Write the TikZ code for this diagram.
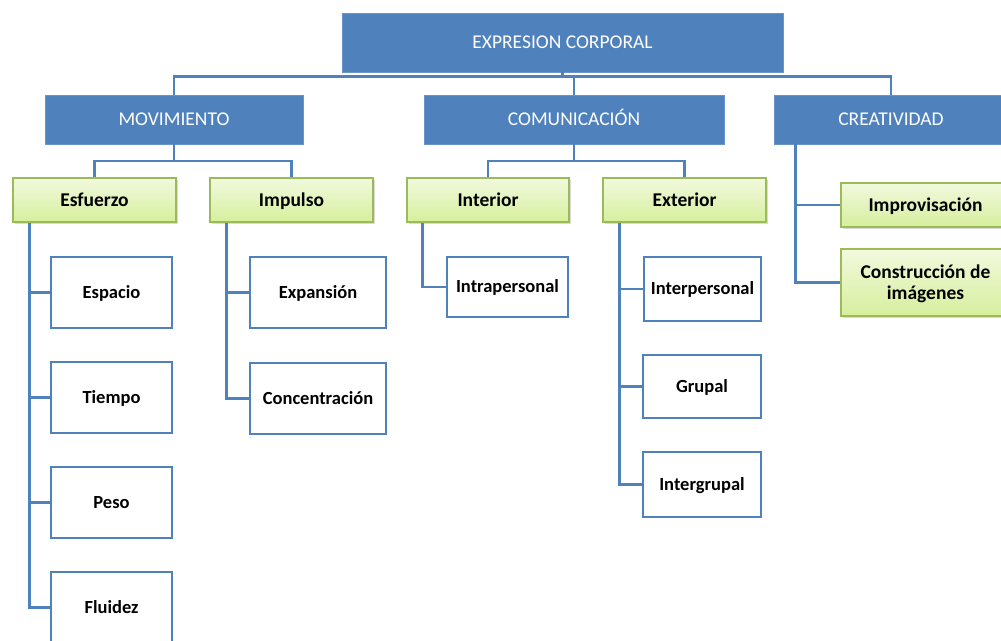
\documentclass[tikz,border=0pt]{standalone}
\usepackage{fontspec}
\setmainfont{Carlito}
\usetikzlibrary{shadows}
\definecolor{obl}{HTML}{4F81BD}
\definecolor{gborder}{HTML}{9BBB59}
\definecolor{gtop}{HTML}{F2F9DE}
\definecolor{gbot}{HTML}{D6EF9C}
\tikzset{
  bluebox/.style={fill=obl, draw=obl!85!white, line width=0.6pt, text=white,
    inner sep=0pt, text height=13.6pt, text depth=1.2pt, font=\fontsize{19.5}{22}\selectfont},
  greenbase/.style={top color=gtop, bottom color=gbot, draw=gborder, line width=1.5pt,
    inner sep=0pt, font=\fontsize{19.5}{22}\selectfont\bfseries,
    drop shadow={shadow xshift=1.5pt, shadow yshift=-1.5pt, opacity=0.35, fill=black!40}},
  greenbox/.style={greenbase, text height=14pt, text depth=1.4pt},
  whitebox/.style={fill=white, draw=obl, line width=2.6pt, inner sep=0pt,
    text height=13.5pt, text depth=1.6pt, font=\fontsize{18.5}{21}\selectfont\bfseries},
  conn/.style={draw=obl, line width=2.8pt},
}
\begin{document}
\begin{tikzpicture}[x=1pt,y=-1pt]
\useasboundingbox (0,0) rectangle (1001,640);
\clip (0,0) rectangle (1001,640);
% bus coordinates
\coordinate (bus0) at (0,76.5);
\coordinate (bus1) at (0,161);
% level 0
\node[bluebox, minimum width=441pt, minimum height=59pt] (top) at (562.5,42.5) {EXPRESION CORPORAL};
% level 1
\node[bluebox, minimum width=258pt, minimum height=49pt] (mov) at (174,119.5) {MOVIMIENTO};
\node[bluebox, minimum width=300pt, minimum height=49pt] (com) at (574,119.5) {COMUNICACIÓN};
\node[bluebox, minimum width=234pt, minimum height=49pt] (cre) at (891,119.5) {CREATIVIDAD};
% connectors level 0 -> 1
\draw[conn] (top.south) -- (top.south |- bus0) -| (mov.north);
\draw[conn] (top.south) -- (top.south |- bus0) -| (com.north);
\draw[conn] (top.south) -- (top.south |- bus0) -| (cre.north);
% level 2
\node[greenbox, minimum width=163pt, minimum height=44pt] (esf) at (94.5,200) {Esfuerzo};
\node[greenbox, minimum width=163pt, minimum height=44pt] (imp) at (291.5,200) {Impulso};
\node[greenbox, minimum width=162pt, minimum height=44pt] (int) at (488,200) {Interior};
\node[greenbox, minimum width=163pt, minimum height=44pt] (ext) at (684.5,200) {Exterior};
\node[greenbox, minimum width=169pt, minimum height=44pt] (impro) at (925.5,205) {Improvisación};
\node[greenbase, minimum width=169pt, minimum height=67pt] (cons) at (925.5,282.5)
  {\raisebox{-2pt}[\height][\depth]{\begin{tabular}{@{}c@{}}Construcción de\\[-1pt]imágenes\end{tabular}}};
% level 3
\node[whitebox, minimum width=121pt, minimum height=71pt] (espacio) at (111.5,292.5) {Espacio};
\node[whitebox, minimum width=121pt, minimum height=71pt] (tiempo) at (111.5,397.5) {Tiempo};
\node[whitebox, minimum width=121pt, minimum height=71pt] (peso) at (111.5,502.5) {Peso};
\node[whitebox, minimum width=121pt, minimum height=71pt] (fluidez) at (111.5,607.5) {Fluidez};
\node[whitebox, minimum width=136pt, minimum height=71pt] (expan) at (318,292.5) {Expansión};
\node[whitebox, minimum width=136pt, minimum height=71pt] (conc) at (318,398.5) {Concentración};
\node[whitebox, minimum width=121pt, minimum height=60pt] (intra) at (507.5,287) {Intrapersonal};
\node[whitebox, minimum width=117pt, minimum height=64pt] (inter) at (702.5,289) {Interpersonal};
\node[whitebox, minimum width=118pt, minimum height=63pt] (grupal) at (702,386.5) {Grupal};
\node[whitebox, minimum width=118pt, minimum height=65pt] (intergr) at (702,484.5) {Intergrupal};
% connectors level 1 -> 2
\draw[conn] (mov.south) -- (mov.south |- bus1) -| (esf.north);
\draw[conn] (mov.south) -- (mov.south |- bus1) -| (imp.north);
\draw[conn] (com.south) -- (com.south |- bus1) -| (int.north);
\draw[conn] (com.south) -- (com.south |- bus1) -| (ext.north);
\draw[conn] ([xshift=22pt]cre.south west) |- (impro.west);
\draw[conn] ([xshift=22pt]cre.south west) |- (cons.west);
% connectors level 2 -> 3
\draw[conn] ([xshift=17pt]esf.south west) |- (espacio.west);
\draw[conn] ([xshift=17pt]esf.south west) |- (tiempo.west);
\draw[conn] ([xshift=17pt]esf.south west) |- (peso.west);
\draw[conn] ([xshift=17pt]esf.south west) |- (fluidez.west);
\draw[conn] ([xshift=17pt]imp.south west) |- (expan.west);
\draw[conn] ([xshift=17pt]imp.south west) |- (conc.west);
\draw[conn] ([xshift=16pt]int.south west) |- (intra.west);
\draw[conn] ([xshift=17pt]ext.south west) |- (inter.west);
\draw[conn] ([xshift=17pt]ext.south west) |- (grupal.west);
\draw[conn] ([xshift=17pt]ext.south west) |- (intergr.west);
\end{tikzpicture}
\end{document}
